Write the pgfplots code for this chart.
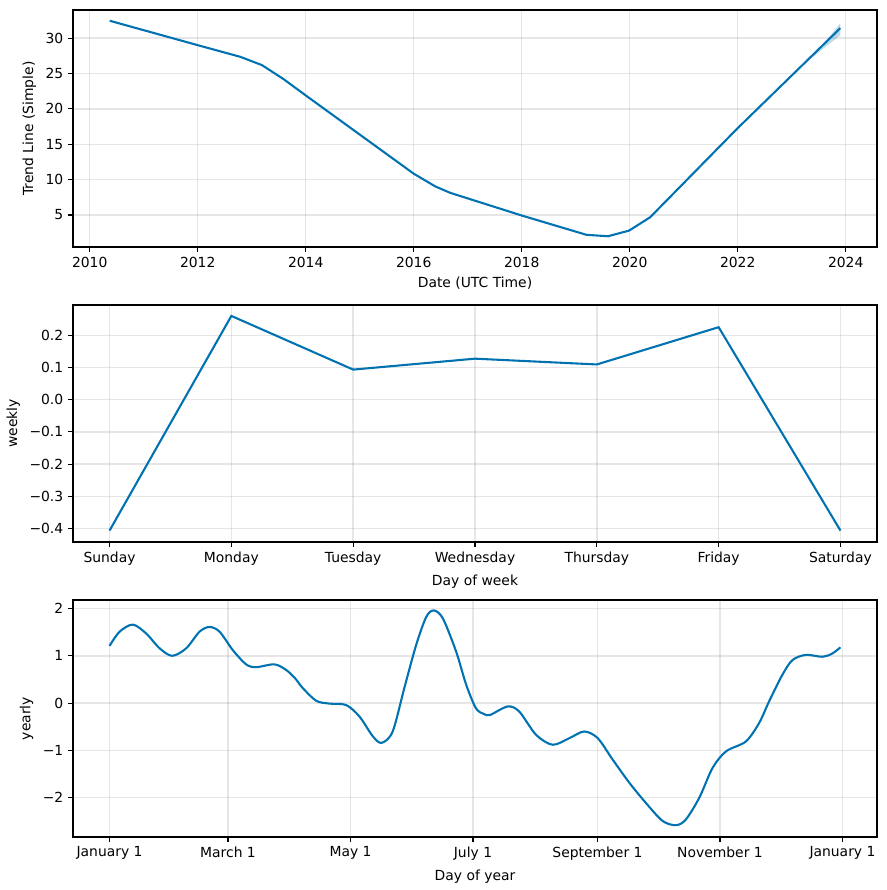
\documentclass[border=0pt]{standalone}
\usepackage{pgfplots}
\pgfplotsset{compat=1.18}
\usepackage{fontspec}
\setmainfont{DejaVu Sans}
\definecolor{pblue}{HTML}{0072B2}
\pgfplotsset{myax/.style={
  scale only axis, width=578.88pt, height=170.64pt, anchor=south west,
  axis line style={line width=0.8pt, black},
  tick style={line width=0.8pt, black},
  major tick length=3.5pt, tick align=outside, tick pos=left,
  grid=major, major grid style={line width=1pt, gray, opacity=0.2},
  tick label style={font=\fontsize{10}{12}\selectfont},
  label style={font=\fontsize{10}{12}\selectfont},
  /pgf/number format/assume math mode=true,
  cycle list={{pblue, line width=1.5pt, mark=none}},
}, pline/.style={pblue, line width=1.5pt, mark=none}}
\begin{document}
\begin{tikzpicture}
\useasboundingbox (0,0) rectangle (638.64pt,640.8pt);
% Trend
\begin{axis}[myax, at={(52.56pt,462.96pt)},
  xmin=2009.69, xmax=2024.58, ymin=0.48, ymax=33.97,
  xtick={2010,2012,2014,2016,2018,2020,2022,2024},
  xticklabels={2010,2012,2014,2016,2018,2020,2022,2024},
  ytick={5,10,15,20,25,30},
  xlabel={Date (UTC Time)}, ylabel={Trend Line (Simple)}]
\addplot[draw=none, fill=pblue, fill opacity=0.25, mark=none] coordinates {
 (2023.25,26.44) (2023.6,29.3) (2023.9,32.1) (2023.9,30.4) (2023.6,28.6) (2023.25,26.44)};
\addplot[pline] coordinates {
 (2010.37,32.45) (2012.0,29.0) (2012.79,27.35) (2013.19,26.18) (2013.59,24.2)
 (2014.0,21.9) (2016.0,10.84) (2016.4,9.04) (2016.67,8.15) (2016.83,7.76)
 (2018.0,4.93) (2019.2,2.2) (2019.6,2.0) (2019.99,2.8) (2020.38,4.69)
 (2021.99,17.2) (2023.9,31.4)};
\end{axis}
% Weekly
\begin{axis}[myax, at={(52.56pt,250.56pt)},
  xmin=-0.3, xmax=6.3, ymin=-0.4425, ymax=0.295,
  xtick={0,1,2,3,4,5,6},
  xticklabels={Sunday,Monday,Tuesday,Wednesday,Thursday,Friday,Saturday},
  ytick={-0.4,-0.3,-0.2,-0.1,0,0.1,0.2},
  yticklabels={−0.4,−0.3,−0.2,−0.1,0.0,0.1,0.2},
  xlabel={Day of week}, ylabel={weekly}]
\addplot[pline] coordinates {
 (0,-0.407) (1,0.261) (2,0.094) (3,0.128) (4,0.110) (5,0.226) (6,-0.407)};
\end{axis}
% Yearly
\begin{axis}[myax, at={(52.56pt,38.16pt)},
  xmin=-18.2, xmax=382.2, ymin=-2.83, ymax=2.18,
  xtick={0,59,120,181,243,304,365},
  xticklabels={January 1,March 1,May 1,July 1,September 1,November 1,January 1},
  ytick={-2,-1,0,1,2},
  yticklabels={−2,−1,0,1,2},
  xlabel={Day of year}, ylabel={yearly}]
\addplot[pline, smooth, tension=0.5] coordinates {
 (0,1.21) (5,1.51) (11.6,1.66) (18.3,1.47) (24.9,1.16) (31.2,1.00) (38.2,1.16)
 (44.8,1.51) (49.8,1.61) (54.8,1.51) (61.4,1.12) (68.0,0.82) (73.0,0.76)
 (82.1,0.82) (88.0,0.70) (92.5,0.52) (96.2,0.32) (102.9,0.05) (109.5,-0.01)
 (117.8,-0.04) (124.4,-0.28) (131.1,-0.70) (135.5,-0.84) (141,-0.60)
 (146.8,0.32) (152.7,1.23) (157.7,1.82) (161.5,1.96) (166,1.79) (172.6,1.09)
 (177.6,0.39) (182.5,-0.11) (186.5,-0.23) (189.5,-0.25) (198.3,-0.07)
 (204.1,-0.18) (212.4,-0.67) (220.7,-0.88) (229,-0.74) (236.4,-0.60)
 (243.1,-0.74) (250.5,-1.19) (258.8,-1.68) (267.1,-2.11) (275.4,-2.49)
 (282.1,-2.58) (287,-2.46) (293.7,-2.0) (300.3,-1.37) (307,-1.02)
 (316.9,-0.81) (323.5,-0.42) (328.5,0.04) (335.1,0.60) (340.1,0.91)
 (346.8,1.02) (355.1,0.98) (360,1.05) (364,1.18)};
\end{axis}
\end{tikzpicture}
\end{document}
